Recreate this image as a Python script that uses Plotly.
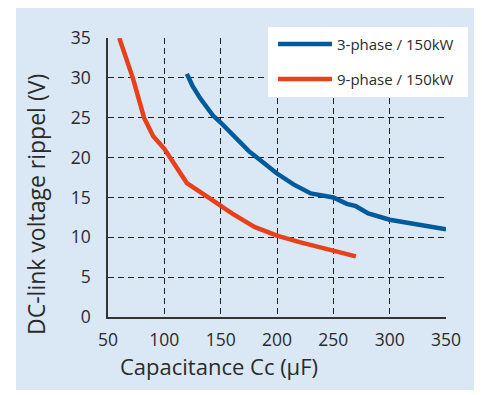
import plotly.graph_objects as go

# Data
cap_3ph = [120, 125, 132, 143, 150, 160, 175, 185, 200, 215, 230, 250, 255, 262, 270, 281, 300, 350]
rip_3ph = [30.5, 29.0, 27.4, 25.3, 24.4, 22.9, 20.8, 19.7, 18.0, 16.6, 15.5, 15.0, 14.6, 14.2, 13.9, 13.0, 12.2, 11.0]
cap_9ph = [60, 72, 82, 90, 100, 110, 120, 140, 150, 160, 180, 200, 220, 240, 250, 270]
rip_9ph = [35, 30, 25, 22.7, 21.1, 18.9, 16.8, 14.9, 13.9, 13.0, 11.3, 10.2, 9.4, 8.7, 8.4, 7.6]
names = ["3-phase / 150kW", "9-phase / 150kW"]
x_ticks = [50, 100, 150, 200, 250, 300, 350]
y_ticks = [0, 5, 10, 15, 20, 25, 30, 35]

BLUE = "#005a9b"
RED = "#e8401a"
BG = "#dae8f5"
TXT = "#2a2a2a"
FONT = "Open Sans"

# page body has an 8px default margin -> figure is drawn at (8, 8)
OFF = 8
W, H = 482 - OFF, 395 - OFF
L, T = 108 - OFF, 38 - OFF
R, B = W - (446 - OFF), H - (317 - OFF)
pw, ph = W - L - R, H - T - B

def px(x):  # screen pixel -> paper x
    return (x - OFF - L) / pw

def py(y):  # screen pixel -> paper y
    return (H - B - (y - OFF)) / ph

fig = go.Figure()
fig.add_trace(go.Scatter(x=cap_3ph, y=rip_3ph, mode="lines", name=names[0],
                         line=dict(color=BLUE, width=4.5), showlegend=False))
fig.add_trace(go.Scatter(x=cap_9ph, y=rip_9ph, mode="lines", name=names[1],
                         line=dict(color=RED, width=4.5), showlegend=False))

shapes = [
    dict(type="rect", xref="paper", yref="paper", layer="below",
         x0=px(16), x1=px(478), y0=py(390), y1=py(8),
         fillcolor=BG, line=dict(width=0)),
    # legend box
    dict(type="rect", xref="paper", yref="paper", layer="above",
         x0=px(268), x1=px(468), y0=py(97), y1=py(27),
         fillcolor="white", line=dict(width=0)),
    dict(type="line", xref="paper", yref="paper", layer="above",
         x0=px(278), x1=px(332), y0=py(44), y1=py(44),
         line=dict(color=BLUE, width=4.5)),
    dict(type="line", xref="paper", yref="paper", layer="above",
         x0=px(278), x1=px(332), y0=py(79), y1=py(79),
         line=dict(color=RED, width=4.5)),
]

annotations = [
    dict(xref="paper", yref="paper", x=px(335), y=py(44), text=names[0],
         xanchor="left", yanchor="middle", showarrow=False,
         font=dict(family=FONT, size=15, color=TXT)),
    dict(xref="paper", yref="paper", x=px(335), y=py(79), text=names[1],
         xanchor="left", yanchor="middle", showarrow=False,
         font=dict(family=FONT, size=15, color=TXT)),
    dict(xref="paper", yref="paper", x=px(219), y=py(366), text="Capacitance Cc (µF)",
         xanchor="center", yanchor="middle", showarrow=False,
         font=dict(family=FONT, size=22, color=TXT)),
    dict(xref="paper", yref="paper", x=px(36), y=py(205), text="DC-link voltage rippel (V)",
         xanchor="center", yanchor="middle", showarrow=False, textangle=-90,
         font=dict(family=FONT, size=23, color=TXT)),
]

fig.update_layout(
    width=W, height=H,
    margin=dict(l=L, r=R, t=T, b=B, pad=0, autoexpand=False),
    paper_bgcolor="white", plot_bgcolor=BG,
    font=dict(family=FONT, size=17.5, color=TXT),
    shapes=shapes, annotations=annotations,
    showlegend=False,
)
fig.update_xaxes(range=[50, 350], tickvals=x_ticks, ticktext=[str(v) for v in x_ticks],
                 showgrid=True, gridcolor="#222222", gridwidth=1.3, griddash="6px,4px",
                 showline=True, linecolor="#333333", linewidth=1.5, zeroline=False,
                 automargin=False,
                 ticks="", ticklabelstandoff=6, tickfont=dict(size=17.5, color=TXT))
fig.update_yaxes(range=[0, 35], tickvals=y_ticks, ticktext=[str(v) for v in y_ticks],
                 showgrid=True, gridcolor="#222222", gridwidth=1.3, griddash="6px,4px",
                 showline=True, linecolor="#333333", linewidth=1.5, zeroline=False,
                 automargin=False,
                 ticks="", ticklabelstandoff=12, tickfont=dict(size=17.5, color=TXT))

fig.write_html("out.html")
